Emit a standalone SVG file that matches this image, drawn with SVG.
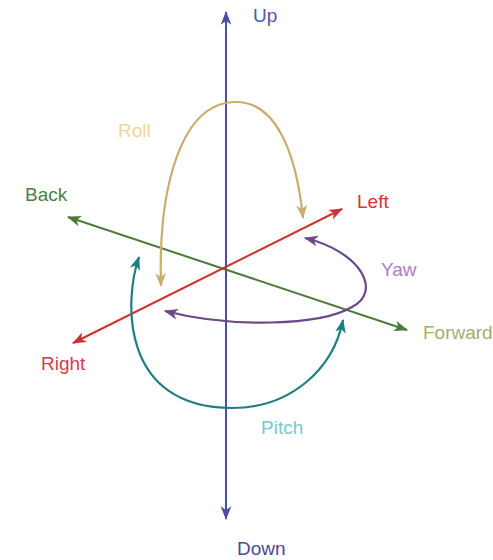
<svg xmlns="http://www.w3.org/2000/svg" width="493" height="560" viewBox="0 0 493 560">
<style>
  text { font-family: "Liberation Sans", Arial, sans-serif; font-size: 19px; }
  .ax { fill: none; stroke-width: 2; }
  .arc { fill: none; stroke-width: 2.2; }
</style>
<defs>
  <marker id="mBlue" markerUnits="userSpaceOnUse" markerWidth="15" markerHeight="12" refX="12" refY="5" orient="auto-start-reverse" viewBox="0 0 14 10"><path d="M0,0 L13,5 L0,10 L3.5,5 z" fill="#4b4fa3"/></marker>
  <marker id="mGreen" markerUnits="userSpaceOnUse" markerWidth="15" markerHeight="12" refX="12" refY="5" orient="auto-start-reverse" viewBox="0 0 14 10"><path d="M0,0 L13,5 L0,10 L3.5,5 z" fill="#4d7a3a"/></marker>
  <marker id="mRed" markerUnits="userSpaceOnUse" markerWidth="15" markerHeight="12" refX="12" refY="5" orient="auto-start-reverse" viewBox="0 0 14 10"><path d="M0,0 L13,5 L0,10 L3.5,5 z" fill="#d23030"/></marker>
  <marker id="mRoll" markerUnits="userSpaceOnUse" markerWidth="15" markerHeight="12" refX="12" refY="5" orient="auto-start-reverse" viewBox="0 0 14 10"><path d="M0,0 L13,5 L0,10 L3.5,5 z" fill="#c9ad6e"/></marker>
  <marker id="mYaw" markerUnits="userSpaceOnUse" markerWidth="15" markerHeight="12" refX="12" refY="5" orient="auto-start-reverse" viewBox="0 0 14 10"><path d="M0,0 L13,5 L0,10 L3.5,5 z" fill="#6b4a8a"/></marker>
  <marker id="mPitch" markerUnits="userSpaceOnUse" markerWidth="15" markerHeight="12" refX="12" refY="5" orient="auto-start-reverse" viewBox="0 0 14 10"><path d="M0,0 L13,5 L0,10 L3.5,5 z" fill="#1f7f80"/></marker>
</defs>
<g id="connectors">
  <line id="axis-updown" class="ax" x1="226" y1="12" x2="226" y2="519" stroke="#4b4fa3" marker-start="url(#mBlue)" marker-end="url(#mBlue)"/>
  <line id="axis-backforward" class="ax" x1="68" y1="217" x2="407" y2="330" stroke="#4d7a3a" marker-start="url(#mGreen)" marker-end="url(#mGreen)"/>
  <line id="axis-leftright" class="ax" x1="342" y1="209" x2="73" y2="343" stroke="#d23030" marker-start="url(#mRed)" marker-end="url(#mRed)"/>
  <path id="roll-arc" class="arc" d="M161,286 C158,190 180,102 236,102 C275,102 296,150 303,218" stroke="#c9ad6e" marker-start="url(#mRoll)" marker-end="url(#mRoll)"/>
  <path id="yaw-arc" class="arc" d="M305,238 C362,252 382,292 352,307 C320,326 230,328 165,311" stroke="#6b4a8a" marker-start="url(#mYaw)" marker-end="url(#mYaw)"/>
  <path id="pitch-arc" class="arc" d="M139,257 C124,300 120,408 232,408 C290,408 333,370 343,320" stroke="#1f7f80" marker-start="url(#mPitch)" marker-end="url(#mPitch)"/>
</g>
<g id="up"><text x="253" y="22" fill="#5457a8">Up</text></g>
<g id="down"><text x="237" y="555" fill="#4a4a94">Down</text></g>
<g id="back"><text x="25" y="201" fill="#4f7f3f">Back</text></g>
<g id="forward"><text x="423" y="339" fill="#aaaa6c">Forward</text></g>
<g id="left"><text x="357" y="208" fill="#d8323a">Left</text></g>
<g id="right"><text x="41" y="370" fill="#d83a4a">Right</text></g>
<g id="roll"><text x="118" y="137" fill="#f0d498">Roll</text></g>
<g id="yaw"><text x="381" y="276" fill="#b07cc0">Yaw</text></g>
<g id="pitch"><text x="261" y="434" fill="#78c8d0">Pitch</text></g>
</svg>
